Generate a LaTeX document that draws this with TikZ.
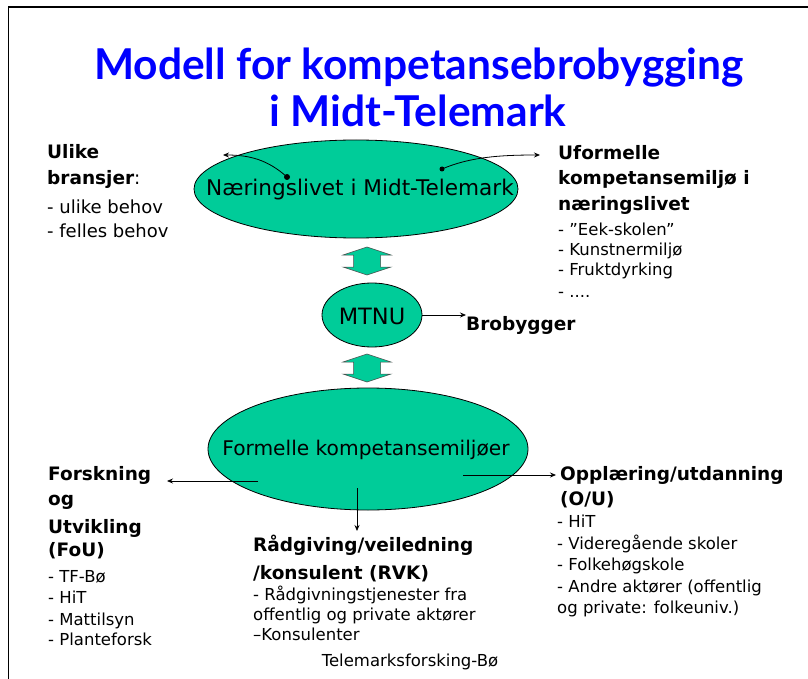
\documentclass[tikz,border=0pt]{standalone}
\usepackage{fontspec}
\setmainfont{DejaVu Sans}
\newfontfamily\titlefont{Lato}
\usetikzlibrary{arrows.meta,shapes.geometric}
\definecolor{ovalgreen}{RGB}{0,204,153}
\definecolor{titleblue}{RGB}{0,0,255}

\begin{document}
\begin{tikzpicture}[x=1pt,y=-1pt,
  oval/.style={ellipse,draw=black,line width=0.8pt,fill=ovalgreen,inner sep=0pt},
  ovaltext/.style={inner sep=0pt,font=\fontsize{#1}{24}\selectfont},
  ttl/.style={anchor=base,inner sep=0pt,text=titleblue,font=\titlefont\bfseries\fontsize{42.5}{50}\selectfont},
  hd/.style={anchor=base west,inner sep=0pt,font=\bfseries\fontsize{18.5}{22}\selectfont},
  itm/.style={anchor=base west,inner sep=0pt,font=\fontsize{16.5}{19}\selectfont},
  itmbig/.style={anchor=base west,inner sep=0pt,font=\fontsize{18}{21}\selectfont},
  conn/.style={line width=0.8pt,-{Stealth[length=6pt,width=5pt]}},
  pics/dblarrow/.style={code={
    \filldraw[fill=ovalgreen,draw=black!70,line width=0.5pt]
      (0,-14) -- (24,-6) -- (13.5,-6) -- (13.5,6) -- (24,6) -- (0,14)
      -- (-24,6) -- (-13.5,6) -- (-13.5,-6) -- (-24,-6) -- cycle;}}
]
\useasboundingbox (0,0) rectangle (808,679);

% slide frame (open to the right and bottom)
\draw[line width=1.5pt] (808,7) -- (8.5,7) -- (8.5,679);

% title
\node[ttl] (t1) at (419,80) {Modell for kompetansebrobygging};
\node[ttl] (t2) at (418,127) {i Midt-Telemark};

% central ovals with their captions
\node[oval,minimum width=324,minimum height=98] (nl) at (356,189) {};
\node[ovaltext=21.6] (nlt) at (360,190) {Næringslivet i Midt-Telemark};
\node[oval,minimum width=100,minimum height=64] (mt) at (372,315) {};
\node[ovaltext=22.5] (mtt) at (372,316) {MTNU};
\node[oval,minimum width=320,minimum height=122] (fk) at (368,449) {};
\node[ovaltext=20.2] (fkt) at (366,450) {Formelle kompetansemiljøer};

% two-way block arrows between the ovals
\pic at (367,261) {dblarrow};
\pic at (367,368) {dblarrow};

% upper left block
\node[hd] (ub1) at (47,159) {Ulike};
\node[hd] (ub2) at (47,185) {bransjer\mdseries:};
\node[itmbig] (ub3) at (47,213) {- ulike behov};
\node[itmbig] (ub4) at (47,237) {- felles behov};

% upper right block
\node[hd] (uf1) at (558,160) {Uformelle};
\node[hd] (uf2) at (558,185) {kompetansemiljø i};
\node[hd] (uf3) at (558,211) {næringslivet};
\node[itm] (uf4) at (558,235) {- ”Eek-skolen”};
\node[itm] (uf5) at (558,255) {- Kunstnermiljø};
\node[itm] (uf6) at (558,275) {- Fruktdyrking};
\node[itm] (uf7) at (558,297) {- ....};

% bridge builder
\node[hd] (bb) at (466,330) {Brobygger};

% research and development
\node[hd] (fo1) at (48,480) {Forskning};
\node[hd] (fo2) at (48,505) {og};
\node[hd] (fo3) at (48,533) {Utvikling};
\node[hd] (fo4) at (48,556) {(FoU)};
\node[itm] (fo5) at (48,582) {- TF-Bø};
\node[itm] (fo6) at (48,603) {- HiT};
\node[itm] (fo7) at (48,625) {- Mattilsyn};
\node[itm] (fo8) at (48,645) {- Planteforsk};

% advisory services
\node[hd] (rv1) at (253,551) {Rådgiving/veiledning};
\node[hd] (rv2) at (253,579) {/konsulent (RVK)};
\node[itm] (rv3) at (253,600) {- Rådgivningstjenester fra};
\node[itm] (rv4) at (253,620) {offentlig og private aktører};
\node[itm] (rv5) at (253,640) {–Konsulenter};
\node[itm,anchor=base] (src) at (410,666) {Telemarksforsking-Bø};

% education and training
\node[hd] (ou1) at (560,480) {Opplæring/utdanning};
\node[hd] (ou2) at (560,505) {(O/U)};
\node[itm] (ou3) at (557,527) {- HiT};
\node[itm] (ou4) at (557,549) {- Videregående skoler};
\node[itm] (ou5) at (557,570) {- Folkehøgskole};
\node[itm] (ou6) at (557,592) {- Andre aktører (offentlig};
\node[itm] (ou7) at (557,613) {og private: folkeuniv.)};

% connector end points
\coordinate (nlL) at (287,177);
\coordinate (nlR) at (442,169);
\coordinate (ubA) at (223,155);
\coordinate (ufA) at (540,155);
\coordinate (fkL) at (258,481);
\coordinate (foA) at (167,481);
\coordinate (fkR) at (463,475);
\coordinate (ouA) at (556,475);
\coordinate (fkD) at (357,488);
\coordinate (rvA) at (357,531);

% connectors
\fill (nlL) circle (3);
\draw[conn] (nlL) .. controls (268,160) and (250,155) .. (ubA);
\fill (nlR) circle (2.5);
\draw[conn] (nlR) .. controls (470,157) and (500,155) .. (ufA);
\draw[conn] (mt.east) -- (mt.east -| bb.west);
\draw[conn] (fkL) -- (foA);
\draw[conn] (fkR) -- (ouA);
\draw[conn] (fkD) -- (rvA);
\end{tikzpicture}
\end{document}
